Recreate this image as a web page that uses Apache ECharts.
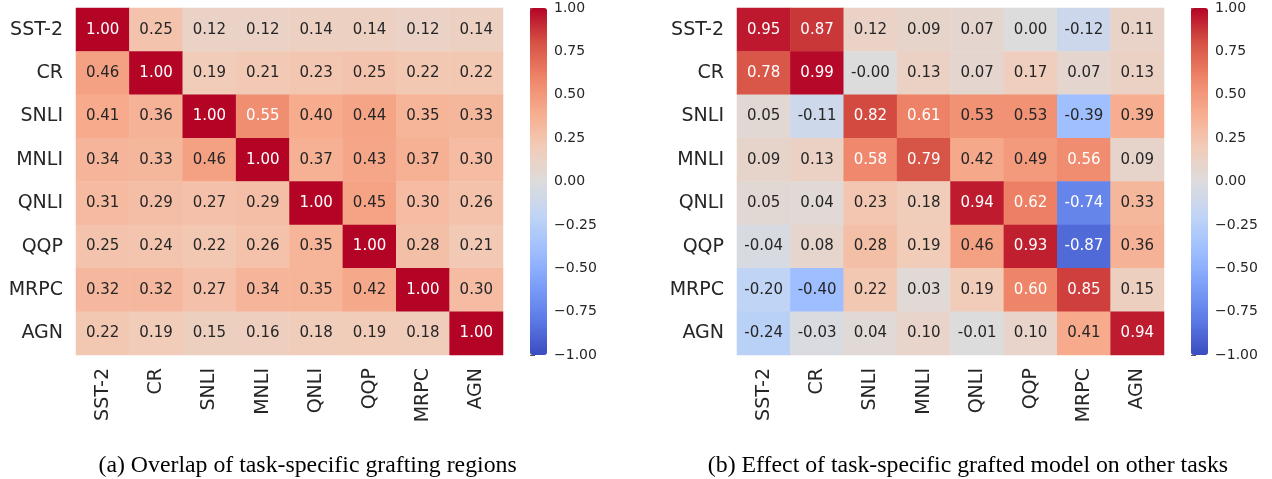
<!DOCTYPE html>
<html>
<head>
<meta charset="utf-8">
<script src="https://cdn.jsdelivr.net/npm/echarts@6/dist/echarts.min.js"></script>
<style>
  html, body { margin: 0; padding: 0; background: #ffffff; }
  #chart { width: 1272px; height: 479px; }
</style>
</head>
<body>
<div id="chart"></div>
<script>
// task names, same order on both axes
const tasks = ["SST-2", "CR", "SNLI", "MNLI", "QNLI", "QQP", "MRPC", "AGN"]

// (a) overlap of grafting regions, rows top to bottom
const overlap = [
  [1.00, 0.25, 0.12, 0.12, 0.14, 0.14, 0.12, 0.14],
  [0.46, 1.00, 0.19, 0.21, 0.23, 0.25, 0.22, 0.22],
  [0.41, 0.36, 1.00, 0.55, 0.40, 0.44, 0.35, 0.33],
  [0.34, 0.33, 0.46, 1.00, 0.37, 0.43, 0.37, 0.30],
  [0.31, 0.29, 0.27, 0.29, 1.00, 0.45, 0.30, 0.26],
  [0.25, 0.24, 0.22, 0.26, 0.35, 1.00, 0.28, 0.21],
  [0.32, 0.32, 0.27, 0.34, 0.35, 0.42, 1.00, 0.30],
  [0.22, 0.19, 0.15, 0.16, 0.18, 0.19, 0.18, 1.00]
]

// (b) effect of grafted model on other tasks
const effect = [
  [0.95, 0.87, 0.12, 0.09, 0.07, 0.00, -0.12, 0.11],
  [0.78, 0.99, -0.004, 0.13, 0.07, 0.17, 0.07, 0.13],
  [0.05, -0.11, 0.82, 0.61, 0.53, 0.53, -0.39, 0.39],
  [0.09, 0.13, 0.58, 0.79, 0.42, 0.49, 0.56, 0.09],
  [0.05, 0.04, 0.23, 0.18, 0.94, 0.62, -0.74, 0.33],
  [-0.04, 0.08, 0.28, 0.19, 0.46, 0.93, -0.87, 0.36],
  [-0.20, -0.40, 0.22, 0.03, 0.19, 0.60, 0.85, 0.15],
  [-0.24, -0.03, 0.04, 0.10, -0.01, 0.10, 0.41, 0.94]
]

const captions = [
  "(a) Overlap of task-specific grafting regions",
  "(b) Effect of task-specific grafted model on other tasks"
]

// colorbar range and ticks
const cbarMin = -1
const cbarMax = 1
const cbarStep = 0.25

// matplotlib coolwarm sampled at 11 points
const coolwarm = [
  "#3b4cc0", "#5b7ae5", "#7b9ff9", "#9ebeff", "#c0d4f5", "#dddcdc",
  "#f2cbb7", "#f7ac8e", "#ee8468", "#d65244", "#b40426"
]

const font = "DejaVu Sans"
const textDark = "#262626"

function cells(matrix) {
  const out = []
  matrix.forEach((row, r) => {
    row.forEach((v, c) => {
      const light = v >= 0.545 || v <= -0.6
      out.push({
        value: [c, r, v],
        label: { color: light ? "#ffffff" : textDark }
      })
    })
  })
  return out
}

function fmtTick(v) {
  return v.toFixed(2).replace("-", "\u2212")
}

const panels = [
  { left: 76, cbar: 530, data: overlap, cx: 307.6 },
  { left: 737, cbar: 1191, data: effect, cx: 968 }
]
const gridTop = 8
const gridW = 427
const gridH = 347
const cbarW = 17

const grid = []
const xAxis = []
const yAxis = []
const series = []
const visualMap = []
const graphic = []

panels.forEach((p, i) => {
  // heatmap grid
  grid.push({ left: p.left, top: gridTop, width: gridW, height: gridH })
  xAxis.push({
    type: "category",
    gridIndex: grid.length - 1,
    data: tasks,
    axisLine: { show: false },
    axisTick: { show: false },
    splitArea: { show: false },
    axisLabel: {
      rotate: 90,
      margin: 13,
      fontSize: 19,
      fontFamily: font,
      color: textDark
    }
  })
  yAxis.push({
    type: "category",
    gridIndex: grid.length - 1,
    data: tasks,
    inverse: true,
    axisLine: { show: false },
    axisTick: { show: false },
    axisLabel: {
      margin: 13,
      fontSize: 19,
      fontFamily: font,
      color: textDark
    }
  })
  series.push({
    type: "heatmap",
    xAxisIndex: xAxis.length - 1,
    yAxisIndex: yAxis.length - 1,
    data: cells(p.data),
    itemStyle: { borderWidth: 0 },
    emphasis: { disabled: true },
    label: {
      show: true,
      fontSize: 15,
      fontFamily: font,
      formatter: (d) => d.value[2].toFixed(2)
    }
  })
  visualMap.push({
    type: "continuous",
    seriesIndex: i,
    dimension: 2,
    min: cbarMin,
    max: cbarMax,
    calculable: false,
    hoverLink: false,
    indicatorSize: 0,
    orient: "vertical",
    left: p.cbar,
    top: gridTop,
    padding: 0,
    itemWidth: cbarW,
    itemHeight: gridH,
    text: null,
    inRange: { color: coolwarm }
  })

  // colorbar tick axis
  grid.push({ left: p.cbar, top: gridTop, width: cbarW, height: gridH })
  xAxis.push({ type: "value", gridIndex: grid.length - 1, show: false })
  yAxis.push({
    type: "value",
    gridIndex: grid.length - 1,
    position: "right",
    min: cbarMin,
    max: cbarMax,
    interval: cbarStep,
    splitLine: { show: false },
    axisLine: { show: false },
    axisTick: { show: true, length: 5, lineStyle: { color: "#555555", width: 1 } },
    axisLabel: {
      margin: 7,
      fontSize: 14,
      fontFamily: font,
      color: textDark,
      formatter: fmtTick
    }
  })

  graphic.push({
    type: "text",
    x: p.cx,
    y: 466,
    style: {
      text: captions[i],
      textAlign: "center",
      textVerticalAlign: "middle",
      font: '23.8px "Liberation Serif", "Times New Roman", serif',
      fill: "#000000"
    }
  })
})

const chart = echarts.init(document.getElementById("chart"))
chart.setOption({
  animation: false,
  backgroundColor: "#ffffff",
  grid,
  xAxis,
  yAxis,
  visualMap,
  series,
  graphic
})
</script>
</body>
</html>
